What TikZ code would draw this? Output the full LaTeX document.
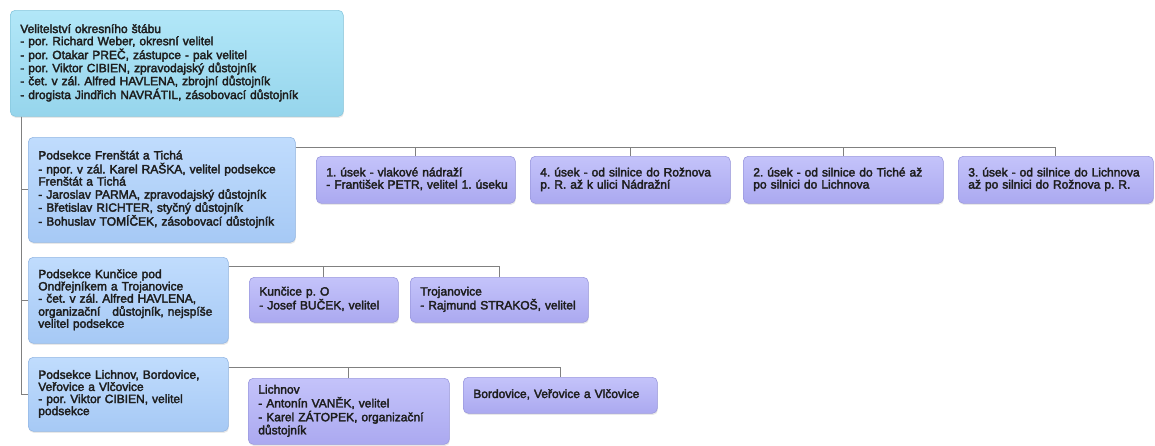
\documentclass[tikz,border=0pt]{standalone}
\usepackage{fontspec}
\setmainfont{Liberation Sans}
\usetikzlibrary{shadows}
\frenchspacing
\definecolor{cyanT}{HTML}{B2E7F8}
\definecolor{cyanL}{HTML}{96D5EC}
\definecolor{cyanB}{HTML}{88C8DE}
\definecolor{blueT}{HTML}{C0DCFD}
\definecolor{blueL}{HTML}{A6C9F5}
\definecolor{blueB}{HTML}{94B7E4}
\definecolor{vioT}{HTML}{C4C3FA}
\definecolor{vioL}{HTML}{ABA9F0}
\definecolor{vioB}{HTML}{9B99DE}
\definecolor{lineC}{HTML}{808080}
\definecolor{txt}{HTML}{1E1E1E}
\newcommand{\boxlines}[1]{\special{pdf:literal direct 2 Tr 0.32 w}\begin{tabular}{@{}l@{}}#1\end{tabular}}
\tikzset{
  box/.style={draw, rounded corners=5pt, line width=0.6pt, anchor=north west,
    align=left, inner xsep=10pt, inner ysep=2pt,
    font=\fontsize{12}{11.3}\selectfont, text=txt,
    drop shadow={opacity=0.18, shadow xshift=0.6pt, shadow yshift=-1.6pt}},
  cyanbox/.style={box, draw=cyanB, top color=cyanT, bottom color=cyanL},
  bluebox/.style={box, draw=blueB, top color=blueT, bottom color=blueL},
  viobox/.style={box, draw=vioB, top color=vioT, bottom color=vioL},
  conn/.style={draw=lineC, line width=0.8pt},
}
\begin{document}
\begin{tikzpicture}[x=1pt,y=-1pt]
\useasboundingbox (0,0) rectangle (1155,445);
\fill[white] (0,0) rectangle (1155,445);

\node[cyanbox, text width=313pt, minimum height=106pt] (top) at (10,10)
 {\boxlines{Velitelství okresního štábu\\
  - por. Richard Weber, okresní velitel\\
  - por. Otakar PREČ, zástupce - pak velitel\\
  - por. Viktor CIBIEN, zpravodajský důstojník\\
  - čet. v zál. Alfred HAVLENA, zbrojní důstojník\\
  - drogista Jindřich NAVRÁTIL, zásobovací důstojník}};

\node[bluebox, text width=247pt, minimum height=105pt] (fren) at (28,137)
 {\boxlines{Podsekce Frenštát a Tichá\\
  - npor. v zál. Karel RAŠKA, velitel podsekce\\
  Frenštát a Tichá\\
  - Jaroslav PARMA, zpravodajský důstojník\\
  - Břetislav RICHTER, styčný důstojník\\
  - Bohuslav TOMÍČEK, zásobovací důstojník}};

\node[bluebox, text width=180pt, minimum height=86pt] (kun) at (28,257)
 {\boxlines{Podsekce Kunčice pod\\
  Ondřejníkem a Trojanovice\\
  - čet. v zál. Alfred HAVLENA,\\
  organizační\ \ \ důstojník, nejspíše\\
  velitel podsekce}};

\node[bluebox, text width=180pt, minimum height=74pt] (lich) at (28,357)
 {\boxlines{Podsekce Lichnov, Bordovice,\\
  Veřovice a Vlčovice\\
  - por. Viktor CIBIEN, velitel\\
  podsekce}};

\node[viobox, text width=179pt, minimum height=47pt] (u1) at (316,156)
 {\boxlines{1. úsek - vlakové nádraží\\
  - František PETR, velitel 1. úseku}};
\node[viobox, text width=180pt, minimum height=47pt] (u4) at (530,156)
 {\boxlines{4. úsek - od silnice do Rožnova\\
  p. R. až k ulici Nádražní}};
\node[viobox, text width=180pt, minimum height=47pt] (u2) at (743,156)
 {\boxlines{2. úsek - od silnice do Tiché až\\
  po silnici do Lichnova}};
\node[viobox, text width=175pt, minimum height=47pt] (u3) at (958,156)
 {\boxlines{3. úsek - od silnice do Lichnova\\
  až po silnici do Rožnova p. R.}};

\node[viobox, text width=129pt, minimum height=45pt] (kp) at (249,277)
 {\boxlines{Kunčice p. O\\
  - Josef BUČEK, velitel}};
\node[viobox, text width=158pt, minimum height=45pt] (tr) at (410,277)
 {\boxlines{Trojanovice\\
  - Rajmund STRAKOŠ, velitel}};

\node[viobox, text width=181pt, minimum height=66pt] (li) at (248,378)
 {\boxlines{Lichnov\\
  - Antonín VANĚK, velitel\\
  - Karel ZÁTOPEK, organizační\\
  důstojník}};
\node[viobox, text width=174pt, minimum height=36pt] (bo) at (463,377)
 {\boxlines{Bordovice, Veřovice a Vlčovice}};

% trunk
\coordinate (trunk) at ([xshift=11pt]top.south west);
\draw[conn] (trunk) |- (fren.west);
\draw[conn] (trunk) |- (kun.west);
\draw[conn] (trunk) |- (lich.west);

% Frenstat bus
\coordinate (fb) at ([yshift=-10pt]fren.north east);
\draw[conn] (fb) -| (u3.north);
\draw[conn] (u1.north) -- (u1.north |- fb);
\draw[conn] (u4.north) -- (u4.north |- fb);
\draw[conn] (u2.north) -- (u2.north |- fb);

% Kuncice bus
\coordinate (kb) at ([yshift=-9pt]kun.north east);
\draw[conn] (kb) -| (tr.north);
\draw[conn] (kp.north) -- (kp.north |- kb);

% Lichnov bus
\coordinate (lb) at ([yshift=-10pt]lich.north east);
\draw[conn] (lb) -| (bo.north);
\draw[conn] (li.north) -- (li.north |- lb);
\end{tikzpicture}
\end{document}
